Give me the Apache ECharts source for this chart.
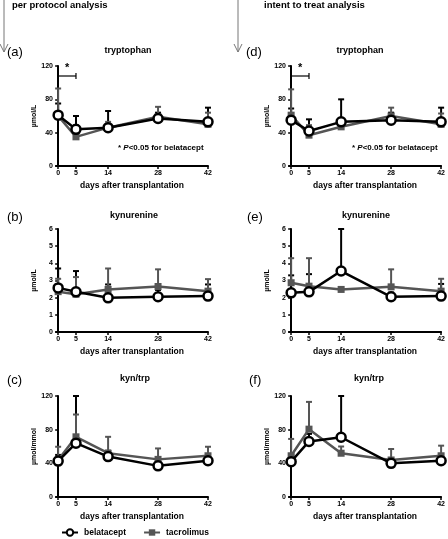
<!DOCTYPE html>
<html>
<head>
<meta charset="utf-8">
<script src="https://cdn.jsdelivr.net/npm/echarts@6/dist/echarts.min.js"></script>
<style>html,body{margin:0;padding:0;background:#fff}#c{width:448px;height:539px}</style>
</head>
<body>
<div id="c"></div>
<script>
const days = [0, 5, 14, 28, 42];
const seriesNames = ['belatacept', 'tacrolimus'];
const panelTitles = ['tryptophan', 'kynurenine', 'kyn/trp', 'tryptophan', 'kynurenine', 'kyn/trp'];
const panelLetters = ['(a)', '(b)', '(c)', '(d)', '(e)', '(f)'];
const yUnits = ['µmol/L', 'µmol/L', 'µmol/mmol', 'µmol/L', 'µmol/L', 'µmol/mmol'];
const yMax = [120, 6, 120, 120, 6, 120];
const yStep = [40, 1, 40, 40, 1, 40];
const xTitle = 'days after transplantation';
const sigBracket = [0, 5, 108];

// per protocol
const trpBelaMean = [61, 44, 46, 57, 53];
const trpBelaUpper = [75, 60, 66, 64, 70];
const trpTacMean = [60, 35, 46, 59, 50];
const trpTacUpper = [93, 49, 53, 71, 64];
const kynBelaMean = [2.57, 2.34, 1.99, 2.05, 2.09];
const kynBelaUpper = [3.7, 3.55, 2.77, 2.45, 2.77];
const kynTacMean = [2.35, 2.2, 2.48, 2.65, 2.38];
const kynTacUpper = [3.1, 3.2, 3.7, 3.65, 3.08];
const ratioBelaMean = [42.7, 64, 48, 37, 43];
const ratioBelaUpper = [50, 120, 55, 45, 48];
const ratioTacMean = [44, 71.5, 52, 44.7, 49];
const ratioTacUpper = [59.7, 98, 71.5, 57.7, 59.7];
// intent to treat
const trpBelaMeanITT = [55, 42, 53, 55, 53];
const trpBelaUpperITT = [69, 56, 80, 64, 70];
const trpTacMeanITT = [61, 37, 47, 60, 50];
const trpTacUpperITT = [92, 49, 57, 70, 63];
const kynBelaMeanITT = [2.28, 2.34, 3.55, 2.05, 2.09];
const kynBelaUpperITT = [3.3, 3.37, 6.0, 2.3, 2.8];
const kynTacMeanITT = [2.87, 2.67, 2.48, 2.63, 2.38];
const kynTacUpperITT = [4.3, 4.3, 2.6, 3.65, 3.1];
const ratioBelaMeanITT = [42, 66, 71, 40, 43];
const ratioBelaUpperITT = [50, 75, 120, 45, 48];
const ratioTacMeanITT = [49, 80.6, 52, 44, 49];
const ratioTacUpperITT = [69, 113, 60, 57, 61];

const belaMeans = [trpBelaMean, kynBelaMean, ratioBelaMean, trpBelaMeanITT, kynBelaMeanITT, ratioBelaMeanITT];
const belaUppers = [trpBelaUpper, kynBelaUpper, ratioBelaUpper, trpBelaUpperITT, kynBelaUpperITT, ratioBelaUpperITT];
const tacMeans = [trpTacMean, kynTacMean, ratioTacMean, trpTacMeanITT, kynTacMeanITT, ratioTacMeanITT];
const tacUppers = [trpTacUpper, kynTacUpper, ratioTacUpper, trpTacUpperITT, kynTacUpperITT, ratioTacUpperITT];

const BLACK = '#000';
const GRAY = '#555';
const FONT = 'Liberation Sans, Arial, sans-serif';

const gridPos = [
  {left: 56, top: 66, width: 152, height: 100},
  {left: 56, top: 229, width: 152, height: 103},
  {left: 56, top: 396, width: 152, height: 101},
  {left: 289, top: 66, width: 153, height: 100},
  {left: 289, top: 229, width: 153, height: 103},
  {left: 289, top: 396, width: 153, height: 101}
];

function errRender(color) {
  return function (params, api) {
    const x = api.value(0), m = api.value(1), u = api.value(2);
    const p0 = api.coord([x, m]);
    const p1 = api.coord([x, u]);
    const top = Math.max(p1[1], params.coordSys.y);
    return {
      type: 'group',
      children: [
        {type: 'line', shape: {x1: p0[0], y1: p0[1], x2: p0[0], y2: top}, style: {stroke: color, lineWidth: 2}},
        {type: 'line', shape: {x1: p0[0] - 3, y1: top, x2: p0[0] + 3, y2: top}, style: {stroke: color, lineWidth: 2}}
      ]
    };
  };
}

function bracketRender(params, api) {
  const a = api.coord([api.value(0), api.value(2)]);
  const b = api.coord([api.value(1), api.value(2)]);
  const st = {stroke: BLACK, lineWidth: 1.2};
  return {
    type: 'group',
    children: [
      {type: 'line', shape: {x1: a[0], y1: a[1], x2: b[0], y2: b[1]}, style: st},
      {type: 'line', shape: {x1: a[0], y1: a[1] - 3, x2: a[0], y2: a[1] + 3}, style: st},
      {type: 'line', shape: {x1: b[0], y1: b[1] - 3, x2: b[0], y2: b[1] + 3}, style: st},
      {type: 'text', style: {text: '*', x: (a[0] + b[0]) / 2, y: a[1] - 3, align: 'center', verticalAlign: 'bottom', font: 'bold 11px ' + FONT, fill: BLACK}}
    ]
  };
}

const grids = [], xAxes = [], yAxes = [], series = [], graphics = [];
for (let i = 0; i < 6; i++) {
  grids.push(gridPos[i]);
  xAxes.push({
    type: 'value', gridIndex: i, min: -0.6, max: 42,
    axisLine: {show: true, lineStyle: {color: BLACK, width: 2}},
    axisTick: {show: true, length: 3, customValues: days, lineStyle: {color: BLACK, width: 1.5}},
    axisLabel: {customValues: days, fontSize: 7, fontWeight: 'bold', color: BLACK, margin: 4, fontFamily: FONT},
    splitLine: {show: false},
    name: xTitle, nameLocation: 'middle', nameGap: 15,
    nameTextStyle: {fontSize: 8.5, fontWeight: 'bold', color: BLACK, fontFamily: FONT}
  });
  yAxes.push({
    type: 'value', gridIndex: i, min: 0, max: yMax[i], interval: yStep[i],
    axisLine: {show: true, lineStyle: {color: BLACK, width: 2}},
    axisTick: {show: true, length: 3, lineStyle: {color: BLACK, width: 1.5}},
    axisLabel: {fontSize: 7, fontWeight: 'bold', color: BLACK, margin: 3, fontFamily: FONT},
    splitLine: {show: false},
    name: yUnits[i], nameLocation: 'middle', nameGap: 18,
    nameTextStyle: {fontSize: 7, fontWeight: 'bold', color: BLACK, fontFamily: FONT}
  });
  const belaErr = days.map((d, k) => [d, belaMeans[i][k], belaUppers[i][k]]);
  const tacErr = days.map((d, k) => [d, tacMeans[i][k], tacUppers[i][k]]);
  series.push({
    type: 'custom', name: 'errB' + i, xAxisIndex: i, yAxisIndex: i, renderItem: errRender(BLACK),
    data: belaErr, encode: {x: 0, y: [1, 2]}, z: 1, clip: false
  });
  series.push({
    type: 'custom', name: 'errT' + i, xAxisIndex: i, yAxisIndex: i, renderItem: errRender(GRAY),
    data: tacErr, encode: {x: 0, y: [1, 2]}, z: 1, clip: false
  });
  series.push({
    type: 'line', name: seriesNames[1], xAxisIndex: i, yAxisIndex: i,
    data: days.map((d, k) => [d, tacMeans[i][k]]),
    color: GRAY, lineStyle: {color: GRAY, width: 2.5},
    symbol: 'rect', symbolSize: 7, itemStyle: {color: GRAY}, z: 2
  });
  series.push({
    type: 'line', name: seriesNames[0], xAxisIndex: i, yAxisIndex: i,
    data: days.map((d, k) => [d, belaMeans[i][k]]),
    color: BLACK, lineStyle: {color: BLACK, width: 2.5},
    symbol: 'circle', symbolSize: 9, itemStyle: {color: '#fff', borderColor: BLACK, borderWidth: 2.5}, z: 3
  });
  if (i === 0 || i === 3) {
    series.push({
      type: 'custom', name: 'sig' + i, xAxisIndex: i, yAxisIndex: i, renderItem: bracketRender,
      data: [sigBracket], encode: {x: [0, 1], y: 2}, z: 4, clip: false
    });
    const g = gridPos[i];
    graphics.push({
      type: 'text', left: g.left + g.width - 90, top: 144,
      style: {
        text: '{n|* }{i|P}{n|<0.05 for belatacept}',
        rich: {
          n: {font: 'bold 8px ' + FONT, fill: BLACK},
          i: {font: 'italic bold 8px ' + FONT, fill: BLACK}
        }
      }
    });
  }
}

const titleCenters = [128, 134, 135, 360, 366, 369];
const titleYs = [51, 216, 379, 51, 216, 379];
const letterXs = [7, 7, 7, 246, 247, 249];
for (let i = 0; i < 6; i++) {
  graphics.push({type: 'text', x: titleCenters[i], y: titleYs[i],
    style: {text: panelTitles[i], font: 'bold 9px ' + FONT, fill: BLACK, align: 'center', verticalAlign: 'middle'}});
  graphics.push({type: 'text', x: letterXs[i], y: titleYs[i] + 1,
    style: {text: panelLetters[i], font: '13px ' + FONT, fill: BLACK, align: 'left', verticalAlign: 'middle'}});
}
graphics.push({type: 'text', x: 12, y: 5, style: {text: 'per protocol analysis', font: 'bold 9.5px ' + FONT, fill: BLACK, verticalAlign: 'middle'}});
graphics.push({type: 'text', x: 264, y: 5, style: {text: 'intent to treat analysis', font: 'bold 9.5px ' + FONT, fill: BLACK, verticalAlign: 'middle'}});
[4, 238].forEach(ax => {
  graphics.push({type: 'line', shape: {x1: ax, y1: 0, x2: ax, y2: 52}, style: {stroke: '#777', lineWidth: 1}});
  graphics.push({type: 'polyline', shape: {points: [[ax - 4, 44], [ax, 52], [ax + 4, 44]]}, style: {stroke: '#777', lineWidth: 1, fill: null}});
});

const chart = echarts.init(document.getElementById('c'), null, {renderer: 'canvas'});
chart.setOption({
  animation: false,
  backgroundColor: '#fff',
  grid: grids,
  xAxis: xAxes,
  yAxis: yAxes,
  series: series,
  graphic: graphics,
  legend: {
    data: seriesNames, left: 61, top: 528, itemGap: 17, itemWidth: 16, itemHeight: 8, padding: 0,
    textStyle: {fontSize: 8.5, fontWeight: 'bold', color: BLACK, fontFamily: FONT, padding: [0, 0, 0, 1]}
  }
});
</script>
</body>
</html>
